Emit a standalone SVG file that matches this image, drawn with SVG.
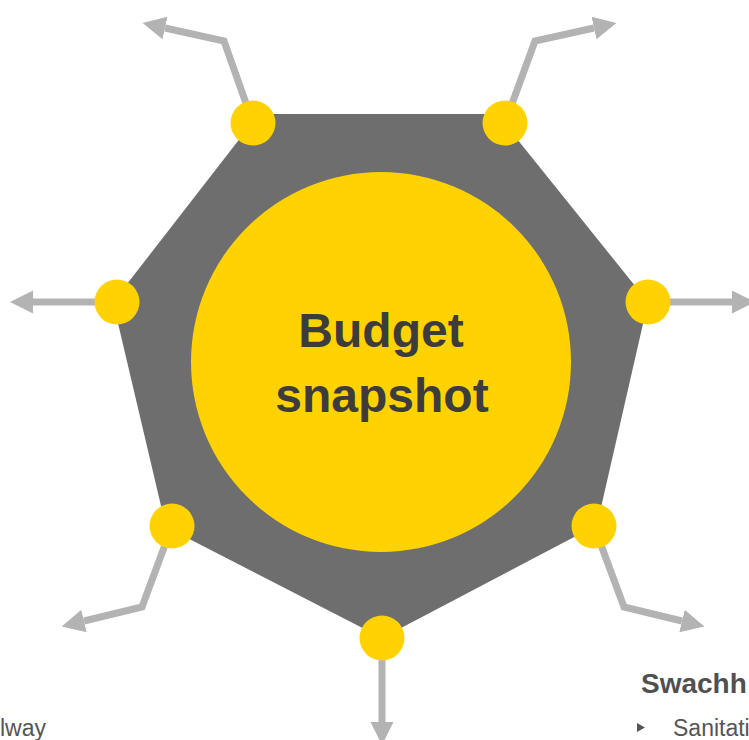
<svg xmlns="http://www.w3.org/2000/svg" width="749" height="740" viewBox="0 0 749 740">
  <style>
    .hub { fill: #6e6e6e; }
    .core { fill: #ffd200; }
    .dot { fill: #ffd200; }
    .spoke { fill: none; stroke: #b3b3b3; stroke-width: 7; stroke-linejoin: miter; }
    .title { font-family: "Liberation Sans", Arial, sans-serif; font-weight: bold; font-size: 48px; fill: #3c3c3c; text-anchor: middle; }
    .head { font-family: "Liberation Sans", Arial, sans-serif; font-weight: bold; font-size: 28px; fill: #505050; }
    .body { font-family: "Liberation Sans", Arial, sans-serif; font-size: 23px; fill: #555555; }
  </style>
  <defs>
    <marker id="arrow" markerUnits="userSpaceOnUse" markerWidth="24" markerHeight="24" refX="0" refY="11.5" orient="auto" viewBox="0 0 24 23">
      <path d="M0,0 L23,11.5 L0,23 z" fill="#b3b3b3"/>
    </marker>
  </defs>
  <rect x="0" y="0" width="749" height="740" fill="#ffffff"/>

  <g id="hub">
    <polygon class="hub" points="259,114 497,114 648,302 597,525 382,638 166,527 113,302"/>
  </g>

  <g id="connectors">
    <polyline class="spoke" points="253,123 224,41 165,28" marker-end="url(#arrow)"/>
    <polyline class="spoke" points="505,123 535,41 594,28" marker-end="url(#arrow)"/>
    <polyline class="spoke" points="117,302 33,302" marker-end="url(#arrow)"/>
    <polyline class="spoke" points="648,302 732,302" marker-end="url(#arrow)"/>
    <polyline class="spoke" points="172,526 142,607 84,621" marker-end="url(#arrow)"/>
    <polyline class="spoke" points="594,526 624,607 682,621" marker-end="url(#arrow)"/>
    <polyline class="spoke" points="382,638 382,722" marker-end="url(#arrow)"/>
  </g>

  <g id="core">
    <circle class="core" cx="381" cy="362" r="190"/>
    <text class="title" x="381" y="347">Budget</text>
    <text class="title" x="382" y="412">snapshot</text>
  </g>

  <g id="node-top-left"><circle class="dot" cx="253" cy="123" r="22.5"/></g>
  <g id="node-top-right"><circle class="dot" cx="505" cy="123" r="22.5"/></g>
  <g id="node-left"><circle class="dot" cx="117" cy="302" r="22.5"/></g>
  <g id="node-right"><circle class="dot" cx="648" cy="302" r="22.5"/></g>
  <g id="node-bottom-left"><circle class="dot" cx="172" cy="526" r="22.5"/></g>
  <g id="node-bottom-right"><circle class="dot" cx="594" cy="526" r="22.5"/></g>
  <g id="node-bottom"><circle class="dot" cx="382" cy="638" r="22.5"/></g>

  <g id="label-left">
    <text class="body" x="0" y="736">lway</text>
  </g>
  <g id="label-right">
    <text class="head" x="641" y="693">Swachh</text>
    <polygon points="637,723 645,727.5 637,732" fill="#555555"/>
    <text class="body" x="673" y="736">Sanitati</text>
  </g>
</svg>
